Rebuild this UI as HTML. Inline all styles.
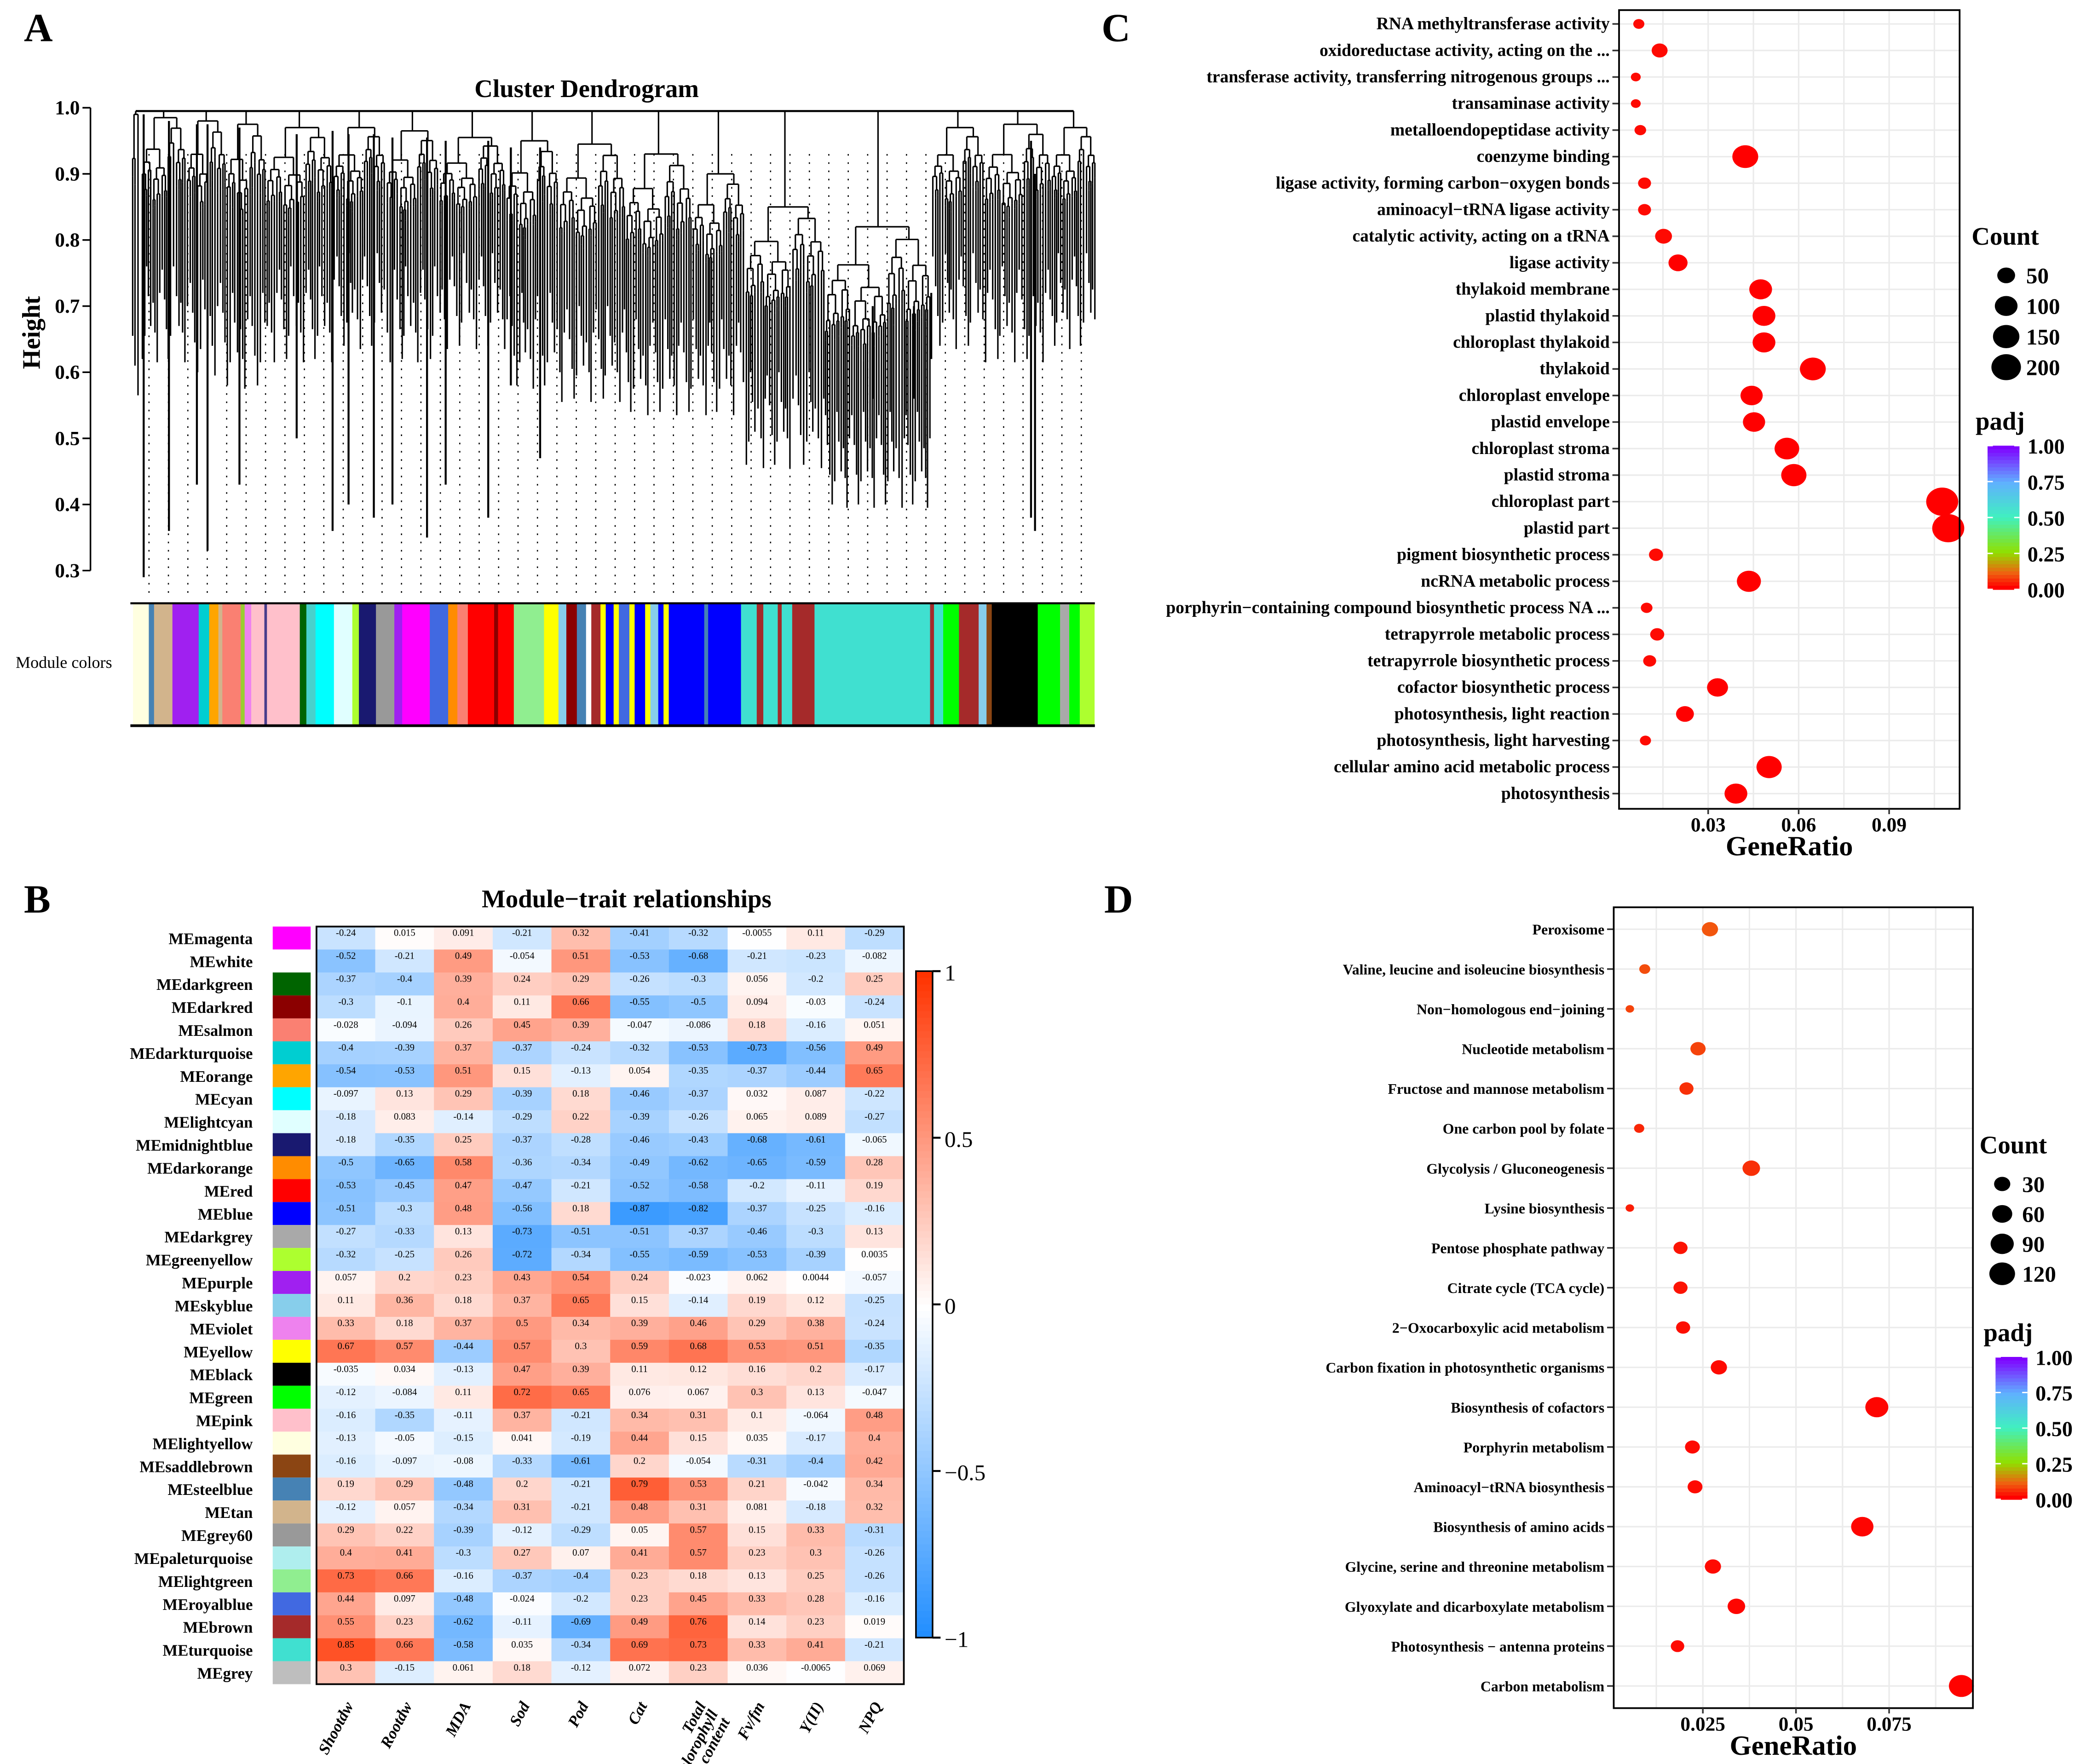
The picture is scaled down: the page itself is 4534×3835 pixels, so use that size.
<!DOCTYPE html>
<html><head><meta charset="utf-8"><title>WGCNA figure</title>
<style>
html,body{margin:0;padding:0;background:#fff;}
svg{display:block;}
text{font-family:"Liberation Serif",serif;}
</style></head>
<body>
<svg id="fig" xmlns="http://www.w3.org/2000/svg" width="4534" height="3835" viewBox="0 0 1568 1326" preserveAspectRatio="none">
<rect x="0" y="0" width="1568" height="1326" fill="#fff"/>
<text x="18" y="31" font-size="30" font-weight="bold">A</text>
<text x="18" y="686" font-size="30" font-weight="bold">B</text>
<text x="828" y="31" font-size="30" font-weight="bold">C</text>
<text x="830" y="686" font-size="30" font-weight="bold">D</text>
<g id="pA"></g>
<g id="pB"></g>
<g id="pC"></g>
<g id="pD"></g>
</svg>
<script>
// ===== Panel A data =====
const dendroTicks = [1.0,0.9,0.8,0.7,0.6,0.5,0.4,0.3];
const dendroBlobs = [[99,105,0.99,0.62],[106,140,0.985,0.72],[140,170,0.98,0.70],[170,200,0.975,0.68],[200,250,0.97,0.72],[250,290,0.97,0.74],[290,330,0.965,0.72],[330,380,0.955,0.74],[380,420,0.95,0.68],[420,470,0.945,0.66],[470,520,0.93,0.64],[520,560,0.9,0.64],[560,620,0.85,0.56],[620,700,0.82,0.50],[700,740,0.97,0.74],[740,790,0.975,0.72],[790,824,0.97,0.74]];
const dendroDrops = [[108,0.99,0.29],[127,0.98,0.36],[148,0.975,0.43],[156,0.975,0.33],[180,0.97,0.43],[223,0.96,0.50],[250,0.965,0.36],[262,0.96,0.40],[281,0.96,0.38],[295,0.955,0.40],[321,0.955,0.35],[335,0.95,0.43],[367,0.95,0.38],[384,0.94,0.58],[406,0.94,0.47],[656,0.70,0.56],[687,0.70,0.56],[700,0.72,0.62],[775,0.95,0.38],[778,0.9,0.36]];
const moduleSegs = [[100,112,'#FFFFE0'],[112,116,'#4682B4'],[116,130,'#D2B48C'],[130,150,'#A020F0'],[150,158,'#00CED1'],[158,165,'#FFA500'],[165,168,'#D2B48C'],[168,182,'#FA8072'],[182,185,'#9ACD32'],[185,190,'#EE82EE'],[190,200,'#FFC0CB'],[200,202,'#483D8B'],[202,227,'#FFC0CB'],[227,232,'#006400'],[232,239,'#48D1CC'],[239,253,'#00FFFF'],[253,267,'#E0FFFF'],[267,272,'#ADFF2F'],[272,285,'#191970'],[285,299,'#999999'],[299,305,'#A020F0'],[305,326,'#FF00FF'],[326,340,'#4169E1'],[340,347,'#FF8C00'],[347,355,'#FA8072'],[355,375,'#FF0000'],[375,378,'#8B0000'],[378,390,'#FF0000'],[390,413,'#90EE90'],[413,424,'#FFFF00'],[424,430,'#87CEEB'],[430,438,'#8B0000'],[438,445,'#4682B4'],[445,449,'#FFFFFF'],[449,456,'#A52A2A'],[456,460,'#FFFF00'],[460,466,'#0000FF'],[466,470,'#FFFF00'],[470,478,'#4169E1'],[478,482,'#FFFF00'],[482,490,'#0000FF'],[490,494,'#FFFF00'],[494,500,'#87CEEB'],[500,504,'#0000FF'],[504,508,'#FFFF00'],[508,535,'#0000FF'],[535,538,'#4682B4'],[538,563,'#0000FF'],[563,575,'#40E0D0'],[575,580,'#A52A2A'],[580,591,'#40E0D0'],[591,594,'#A52A2A'],[594,602,'#40E0D0'],[602,619,'#A52A2A'],[619,707,'#40E0D0'],[707,710,'#A52A2A'],[710,717,'#40E0D0'],[717,729,'#00FF00'],[729,744,'#A52A2A'],[744,750,'#87CEEB'],[750,754,'#8B4513'],[754,789,'#000000'],[789,806,'#00FF00'],[806,813,'#A9A9A9'],[813,821,'#00FF00'],[821,832,'#ADFF2F']];

// ===== Panel B data =====
const moduleNames = ['MEmagenta','MEwhite','MEdarkgreen','MEdarkred','MEsalmon','MEdarkturquoise','MEorange','MEcyan','MElightcyan','MEmidnightblue','MEdarkorange','MEred','MEblue','MEdarkgrey','MEgreenyellow','MEpurple','MEskyblue','MEviolet','MEyellow','MEblack','MEgreen','MEpink','MElightyellow','MEsaddlebrown','MEsteelblue','MEtan','MEgrey60','MEpaleturquoise','MElightgreen','MEroyalblue','MEbrown','MEturquoise','MEgrey'];
const moduleColors = ['#FF00FF','#FFFFFF','#006400','#8B0000','#FA8072','#00CED1','#FFA500','#00FFFF','#E0FFFF','#191970','#FF8C00','#FF0000','#0000FF','#A9A9A9','#ADFF2F','#A020F0','#87CEEB','#EE82EE','#FFFF00','#000000','#00FF00','#FFC0CB','#FFFFE0','#8B4513','#4682B4','#D2B48C','#999999','#AFEEEE','#90EE90','#4169E1','#A52A2A','#40E0D0','#BEBEBE'];
const traitNames = ['Shootdw','Rootdw','MDA','Sod','Pod','Cat','Total chlorophyll content','Fv/fm','Y(II)','NPQ'];
const corrValues = [
[-0.24,0.015,0.091,-0.21,0.32,-0.41,-0.32,-0.0055,0.11,-0.29],
[-0.52,-0.21,0.49,-0.054,0.51,-0.53,-0.68,-0.21,-0.23,-0.082],
[-0.37,-0.4,0.39,0.24,0.29,-0.26,-0.3,0.056,-0.2,0.25],
[-0.3,-0.1,0.4,0.11,0.66,-0.55,-0.5,0.094,-0.03,-0.24],
[-0.028,-0.094,0.26,0.45,0.39,-0.047,-0.086,0.18,-0.16,0.051],
[-0.4,-0.39,0.37,-0.37,-0.24,-0.32,-0.53,-0.73,-0.56,0.49],
[-0.54,-0.53,0.51,0.15,-0.13,0.054,-0.35,-0.37,-0.44,0.65],
[-0.097,0.13,0.29,-0.39,0.18,-0.46,-0.37,0.032,0.087,-0.22],
[-0.18,0.083,-0.14,-0.29,0.22,-0.39,-0.26,0.065,0.089,-0.27],
[-0.18,-0.35,0.25,-0.37,-0.28,-0.46,-0.43,-0.68,-0.61,-0.065],
[-0.5,-0.65,0.58,-0.36,-0.34,-0.49,-0.62,-0.65,-0.59,0.28],
[-0.53,-0.45,0.47,-0.47,-0.21,-0.52,-0.58,-0.2,-0.11,0.19],
[-0.51,-0.3,0.48,-0.56,0.18,-0.87,-0.82,-0.37,-0.25,-0.16],
[-0.27,-0.33,0.13,-0.73,-0.51,-0.51,-0.37,-0.46,-0.3,0.13],
[-0.32,-0.25,0.26,-0.72,-0.34,-0.55,-0.59,-0.53,-0.39,0.0035],
[0.057,0.2,0.23,0.43,0.54,0.24,-0.023,0.062,0.0044,-0.057],
[0.11,0.36,0.18,0.37,0.65,0.15,-0.14,0.19,0.12,-0.25],
[0.33,0.18,0.37,0.5,0.34,0.39,0.46,0.29,0.38,-0.24],
[0.67,0.57,-0.44,0.57,0.3,0.59,0.68,0.53,0.51,-0.35],
[-0.035,0.034,-0.13,0.47,0.39,0.11,0.12,0.16,0.2,-0.17],
[-0.12,-0.084,0.11,0.72,0.65,0.076,0.067,0.3,0.13,-0.047],
[-0.16,-0.35,-0.11,0.37,-0.21,0.34,0.31,0.1,-0.064,0.48],
[-0.13,-0.05,-0.15,0.041,-0.19,0.44,0.15,0.035,-0.17,0.4],
[-0.16,-0.097,-0.08,-0.33,-0.61,0.2,-0.054,-0.31,-0.4,0.42],
[0.19,0.29,-0.48,0.2,-0.21,0.79,0.53,0.21,-0.042,0.34],
[-0.12,0.057,-0.34,0.31,-0.21,0.48,0.31,0.081,-0.18,0.32],
[0.29,0.22,-0.39,-0.12,-0.29,0.05,0.57,0.15,0.33,-0.31],
[0.4,0.41,-0.3,0.27,0.07,0.41,0.57,0.23,0.3,-0.26],
[0.73,0.66,-0.16,-0.37,-0.4,0.23,0.18,0.13,0.25,-0.26],
[0.44,0.097,-0.48,-0.024,-0.2,0.23,0.45,0.33,0.28,-0.16],
[0.55,0.23,-0.62,-0.11,-0.69,0.49,0.76,0.14,0.23,0.019],
[0.85,0.66,-0.58,0.035,-0.34,0.69,0.73,0.33,0.41,-0.21],
[0.3,-0.15,0.061,0.18,-0.12,0.072,0.23,0.036,-0.0065,0.069]];
const cbarTicks = [1,0.5,0,-0.5,-1];

// ===== Panel C data =====
const goTerms = ['RNA methyltransferase activity','oxidoreductase activity, acting on the ...','transferase activity, transferring nitrogenous groups ...','transaminase activity','metalloendopeptidase activity','coenzyme binding','ligase activity, forming carbon\u2212oxygen bonds','aminoacyl\u2212tRNA ligase activity','catalytic activity, acting on a tRNA','ligase activity','thylakoid membrane','plastid thylakoid','chloroplast thylakoid','thylakoid','chloroplast envelope','plastid envelope','chloroplast stroma','plastid stroma','chloroplast part','plastid part','pigment biosynthetic process','ncRNA metabolic process','porphyrin\u2212containing compound biosynthetic process NA ...','tetrapyrrole metabolic process','tetrapyrrole biosynthetic process','cofactor biosynthetic process','photosynthesis, light reaction','photosynthesis, light harvesting','cellular amino acid metabolic process','photosynthesis'];
const goRatio = [0.0070,0.0139,0.0060,0.0060,0.0075,0.0423,0.0089,0.0089,0.0152,0.0200,0.0474,0.0485,0.0485,0.0647,0.0444,0.0452,0.0561,0.0584,0.1076,0.1096,0.0127,0.0435,0.0096,0.0131,0.0106,0.0331,0.0223,0.0092,0.0502,0.0392];
const goCount = [9,35,5,5,11,142,17,17,42,61,101,101,101,142,94,94,125,133,245,245,23,117,11,23,17,80,50,9,133,101];
const goPadj = [0.01,0.01,0.01,0.01,0.01,0,0.01,0.01,0.01,0,0,0,0,0,0,0,0,0,0,0,0.01,0,0.01,0.01,0.01,0,0,0.01,0,0];
const goXTicks = [0.03,0.06,0.09];
const goGrid = [0.015,0.03,0.045,0.06,0.075,0.09,0.105];
const goLegendCounts = [50,100,150,200];

// ===== Panel D data =====
const keggTerms = ['Peroxisome','Valine, leucine and isoleucine biosynthesis','Non\u2212homologous end\u2212joining','Nucleotide metabolism','Fructose and mannose metabolism','One carbon pool by folate','Glycolysis / Gluconeogenesis','Lysine biosynthesis','Pentose phosphate pathway','Citrate cycle (TCA cycle)','2\u2212Oxocarboxylic acid metabolism','Carbon fixation in photosynthetic organisms','Biosynthesis of cofactors','Porphyrin metabolism','Aminoacyl\u2212tRNA biosynthesis','Biosynthesis of amino acids','Glycine, serine and threonine metabolism','Glyoxylate and dicarboxylate metabolism','Photosynthesis \u2212 antenna proteins','Carbon metabolism'];
const keggRatio = [0.0269,0.0094,0.0054,0.0237,0.0206,0.0079,0.0380,0.0054,0.0190,0.0190,0.0197,0.0293,0.0717,0.0222,0.0229,0.0678,0.0277,0.0340,0.0182,0.0944];
const keggCount = [30,6,1,24,18,4,39,1,18,18,18,30,88,22,22,81,30,39,15,111];
const keggPadj = [0.09,0.08,0.07,0.07,0.05,0.04,0.05,0.03,0.02,0.02,0.015,0.01,0.005,0.01,0.01,0.005,0.01,0.005,0.01,0.002];
const keggXTicks = [0.025,0.05,0.075];
const keggGrid = [0.0125,0.025,0.0375,0.05,0.0625,0.075,0.0875];
const keggLegendCounts = [30,60,90,120];

const NS='http://www.w3.org/2000/svg';
function mk(parent, tag, attrs, txt){
  const e=document.createElementNS(NS,tag);
  for(const k in attrs) e.setAttribute(k,attrs[k]);
  if(txt!==undefined) e.textContent=txt;
  parent.appendChild(e); return e;
}
function hex(c){return [parseInt(c.slice(1,3),16),parseInt(c.slice(3,5),16),parseInt(c.slice(5,7),16)];}
function lerpC(a,b,t){const A=hex(a),B=hex(b);return 'rgb('+A.map((v,i)=>Math.round(v+(B[i]-v)*t)).join(',')+')';}
function padjColor(p){
  const st=[[0,'#ff0000'],[0.1,'#f06010'],[0.25,'#90e000'],[0.5,'#40f0c0'],[0.75,'#60b0ff'],[1,'#8000ff']];
  for(let i=0;i<st.length-1;i++){ if(p<=st[i+1][0]){return lerpC(st[i][1],st[i+1][1],(p-st[i][0])/(st[i+1][0]-st[i][0]));}}
  return '#8000ff';
}
function corrColor(v){ return v>=0? lerpC('#ffffff','#ff3300',Math.min(1,v)) : lerpC('#ffffff','#1e8cff',Math.min(1,-v)); }

// ===== Panel A =====
(function(){
  const g=document.getElementById('pA');
  const yH=h=>81+(1-h)*497;
  const t=mk(g,'text',{x:441,y:73,'font-size':19,'font-weight':'bold','text-anchor':'middle'},'Cluster Dendrogram');
  
  
  const ax=mk(g,'line',{x1:68,y1:yH(1.0),x2:68,y2:yH(0.3),stroke:'#000','stroke-width':1.2});
  
  
  dendroTicks.forEach(v=>{
    mk(g,'line',{x1:62,y1:yH(v),x2:68,y2:yH(v),stroke:'#000','stroke-width':1.2});
    const tl=mk(g,'text',{x:60,y:yH(v)+5,'font-size':15,'font-weight':'bold','text-anchor':'end'},v.toFixed(1));
    
    
  });
  const yt=mk(g,'text',{x:30,y:250,'font-size':19,'font-weight':'bold','text-anchor':'middle',transform:'rotate(-90 30 250)'},'Height');
  
  
  const dots=mk(g,'g',{stroke:'#000','stroke-width':0.9,'stroke-dasharray':'1.2,5'});
  
  
  for(let x=112;x<=822;x+=14.6){ mk(dots,'line',{x1:x,y1:yH(0.93),x2:x,y2:448}); }
  const tree=mk(g,'g',{stroke:'#000','stroke-width':1.1,fill:'none'});
  
  
  let leafIdx=0;
  function blob(x0,x1,top,bot,d){
    const mid=(x0+x1)/2;
    if(x1-x0<2.6||d>8){
      leafIdx++;
      const lb=bot-((leafIdx*7)%6)*0.025+((leafIdx*3)%4)*0.02;
      mk(tree,'line',{x1:mid,y1:yH(top),x2:mid,y2:yH(Math.max(0.28,Math.min(top-0.02,lb)))});
      return mid;
    }
    const m=x0+(x1-x0)*(d%2?0.42:0.58);
    const lt=top-(top-bot)*(d%3===0?0.18:0.09);
    const rt=top-(top-bot)*(d%2?0.13:0.06);
    const cl=blob(x0,m,lt,bot,d+1), cr=blob(m,x1,rt,bot,d+1);
    mk(tree,'line',{x1:cl,y1:yH(top),x2:cr,y2:yH(top)});
    mk(tree,'line',{x1:cl,y1:yH(top),x2:cl,y2:yH(lt)});
    mk(tree,'line',{x1:cr,y1:yH(top),x2:cr,y2:yH(rt)});
    return mid;
  }
  const centers=[];
  dendroBlobs.forEach(b=>{ const c=blob(b[0],b[1],b[2],b[3],0); centers.push([c,b[2]]); mk(tree,'line',{x1:c,y1:yH(0.995),x2:c,y2:yH(b[2])}); });
  mk(tree,'line',{x1:centers[0][0],y1:yH(0.995),x2:centers[centers.length-1][0],y2:yH(0.995),'stroke-width':1.5});
  dendroDrops.forEach(d=>{
    const l=mk(tree,'line',{x1:d[0],y1:yH(d[1]),x2:d[0],y2:yH(d[2]),'stroke-width':1.5});
    
    
  });
  const mc=mk(g,'g',{});
  
  
  const sx=x=>100+(x-100)*0.987;
  moduleSegs.forEach(s=>{ mk(mc,'rect',{x:sx(s[0]),y:454,width:sx(s[1])-sx(s[0])+0.3,height:91,fill:s[2]}); });
  mk(mc,'line',{x1:98,y1:453.5,x2:823,y2:453.5,stroke:'#000','stroke-width':1.5});
  mk(mc,'line',{x1:98,y1:545.5,x2:823,y2:545.5,stroke:'#000','stroke-width':2});
  const ml=mk(g,'text',{x:48,y:502,'font-size':12.5,'text-anchor':'middle'},'Module colors');
  
  
})();

// ===== Panel B =====
(function(){
  const g=document.getElementById('pB');
  const X0=237.9,Y0=696.5,CW=44.15,RH=(1266-696.5)/moduleNames.length;
  const t=mk(g,'text',{x:471,y:682,'font-size':19,'font-weight':'bold','text-anchor':'middle'},'Module\u2212trait relationships');
  
  
  corrValues.forEach((row,i)=>{
    const y=Y0+i*RH;
    const sw=mk(g,'rect',{x:205,y:y,width:28.5,height:RH,fill:moduleColors[i]});
    
    
    const lb=mk(g,'text',{x:190,y:y+RH/2+4.5,'font-size':12,'font-weight':'bold','text-anchor':'end'},moduleNames[i]);
    
    
    row.forEach((v,j)=>{
      const c=mk(g,'rect',{x:X0+j*CW,y:y,width:CW+0.2,height:RH+0.2,fill:corrColor(v)});
      
      
      const tx=mk(g,'text',{x:X0+j*CW+CW/2,y:y+7,'font-size':7.2,'text-anchor':'middle'},String(v));
      
      
    });
  });
  mk(g,'rect',{x:X0,y:Y0,width:CW*10,height:RH*moduleNames.length,fill:'none',stroke:'#000','stroke-width':1.3});
  traitNames.forEach((n,j)=>{
    const cx=X0+j*CW+CW/2+6, cy=1282;
    const parts = n==='Total chlorophyll content'?['Total','chlorophyll','content']:[n];
    parts.forEach((p,k)=>{
      const tx=mk(g,'text',{x:cx+k*9,y:cy+k*6,'font-size':12,'font-weight':'bold','font-style':'italic','text-anchor':'end',transform:'rotate(-62 '+(cx+k*9)+' '+(cy+k*6)+')'},p);
      
      
    });
  });
  const cb=mk(g,'g',{});
  
  
  const cbTop=730,cbBot=1231,cbx=688.5,cbw=12.5;
  for(let k=0;k<100;k++){ const v=1-k/50; mk(cb,'rect',{x:cbx,y:cbTop+k*(cbBot-cbTop)/100,width:cbw,height:(cbBot-cbTop)/100+0.5,fill:corrColor(v)}); }
  mk(cb,'rect',{x:cbx,y:cbTop,width:cbw,height:cbBot-cbTop,fill:'none',stroke:'#000','stroke-width':1.2});
  cbarTicks.forEach(v=>{
    const y=cbTop+(1-v)/2*(cbBot-cbTop);
    mk(cb,'line',{x1:cbx+cbw,y1:y,x2:cbx+cbw+6,y2:y,stroke:'#000','stroke-width':1.5});
    const tl=mk(cb,'text',{x:cbx+cbw+9,y:y+7,'font-size':17},v===-1?'\u22121':v===-0.5?'\u22120.5':String(v));
    
    
  });
})();

// ===== dotplot builder =====
function dotplot(g,cfg){
  const {L,R,T,B,x,rowY,terms,ratio,count,padj,ticks,grid,dia,legendCounts,leg,labelFont} = cfg;
  mk(g,'rect',{x:L,y:T,width:R-L,height:B-T,fill:'#fff'});
  grid.forEach(v=>{ const gl=mk(g,'line',{x1:x(v),y1:T,x2:x(v),y2:B,stroke:'#ebebeb','stroke-width':1.1});   });
  terms.forEach((t,i)=>{
    const y=rowY(i);
    mk(g,'line',{x1:L,y1:y,x2:R,y2:y,stroke:'#ebebeb','stroke-width':1.1});
    mk(g,'line',{x1:L-5,y1:y,x2:L,y2:y,stroke:'#333','stroke-width':1.2});
    const tl=mk(g,'text',{x:L-7,y:y+4,'font-size':labelFont,'font-weight':'bold','text-anchor':'end'},t);
    
    
  });
  terms.forEach((t,i)=>{
    const d=dia(count[i]);
    const e=mk(g,'ellipse',{cx:x(ratio[i]),cy:rowY(i),rx:d/2,ry:d/2*0.88,fill:padjColor(padj[i])});
    
    
  });
  mk(g,'rect',{x:L,y:T,width:R-L,height:B-T,fill:'none',stroke:'#000','stroke-width':1.3});
  ticks.forEach(v=>{
    mk(g,'line',{x1:x(v),y1:B,x2:x(v),y2:B+4,stroke:'#333','stroke-width':1.2});
    const tl=mk(g,'text',{x:x(v),y:B+17,'font-size':15,'font-weight':'bold','text-anchor':'middle'},String(v));
    
    
  });
  const xt=mk(g,'text',{x:(L+R)/2,y:B+35,'font-size':21,'font-weight':'bold','text-anchor':'middle'},'GeneRatio');
  
  
  const ct=mk(g,'text',{x:leg.x,y:leg.countY,'font-size':19,'font-weight':'bold'},'Count');
  
  
  legendCounts.forEach((c,k)=>{
    const y=leg.countY+23+k*leg.step, d=dia(c);
    const e=mk(g,'ellipse',{cx:leg.x+leg.dotDx,cy:y,rx:d/2,ry:d/2*0.88,fill:'#000'});
    
    
    const tl=mk(g,'text',{x:leg.x+leg.dotDx+15,y:y+6,'font-size':17,'font-weight':'bold'},String(c));
    
    
  });
  const pt=mk(g,'text',{x:leg.x+3,y:leg.padjY,'font-size':19,'font-weight':'bold'},'padj');
  
  
  const bt=leg.padjY+12, bh=leg.barH, bx=leg.x+12;
  for(let k=0;k<40;k++){ const p=1-k/39; mk(g,'rect',{x:bx,y:bt+k*bh/40,width:24,height:bh/40+0.4,fill:padjColor(p)}); }
  [1,0.75,0.5,0.25,0].forEach(v=>{
    const y=bt+(1-v)*bh;
    mk(g,'line',{x1:bx,y1:y,x2:bx+4,y2:y,stroke:'#fff','stroke-width':1});
    mk(g,'line',{x1:bx+20,y1:y,x2:bx+24,y2:y,stroke:'#fff','stroke-width':1});
    const tl=mk(g,'text',{x:bx+30,y:y+6,'font-size':16,'font-weight':'bold'},v.toFixed(2));
    
    
  });
}
dotplot(document.getElementById('pC'),{
  L:1217,R:1473,T:7.6,B:608,x:v=>1284+(v-0.03)*2267,rowY:i=>18+i*19.95,
  terms:goTerms,ratio:goRatio,count:goCount,padj:goPadj,ticks:goXTicks,grid:goGrid,
  dia:c=>(20+5.37*Math.sqrt(c))/4.32,legendCounts:goLegendCounts,labelFont:13,
  leg:{x:1482,countY:184,step:23,dotDx:26,padjY:323,barH:108}
});
dotplot(document.getElementById('pD'),{
  L:1213,R:1483,T:682,B:1284,x:v=>1280+(v-0.025)*2800,rowY:i=>698.5+i*29.94,
  terms:keggTerms,ratio:keggRatio,count:keggCount,padj:keggPadj,ticks:keggXTicks,grid:keggGrid,
  dia:c=>(20+5.12*Math.sqrt(c))/3.94,legendCounts:keggLegendCounts,labelFont:11,
  leg:{x:1488,countY:867,step:22.5,dotDx:17,padjY:1008,barH:107}
});
</script>
</body></html>
